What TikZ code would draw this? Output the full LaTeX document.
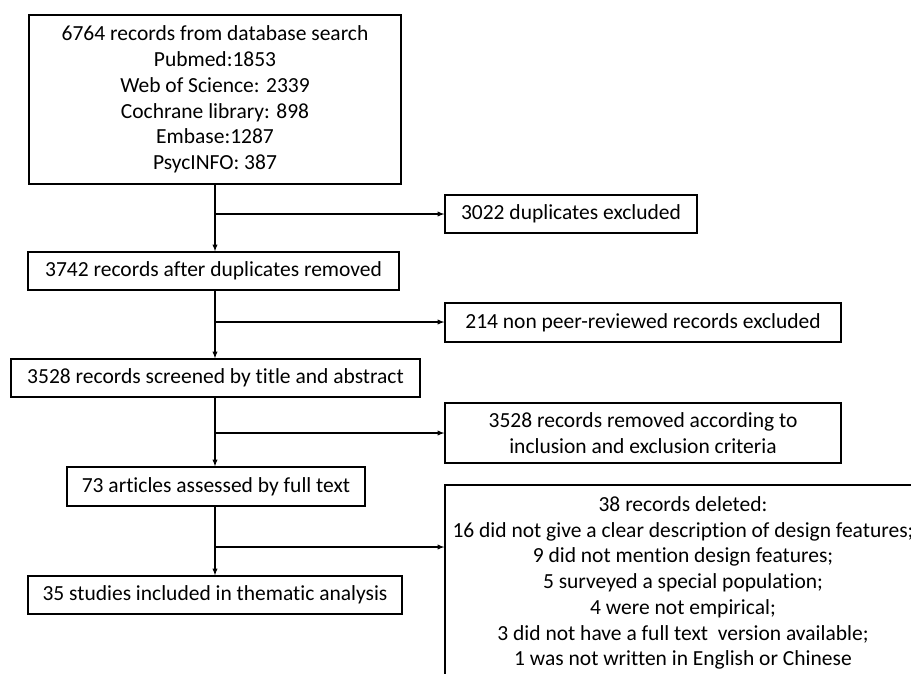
\documentclass[tikz,border=0pt]{standalone}
\usepackage{fontspec}
\setmainfont{Carlito}[Ligatures=NoCommon]
\usetikzlibrary{arrows,positioning}
\tikzset{%
	stage/.style    = {draw, rectangle, line width=1.3pt, inner sep=0pt, align=center, font=\fontsize{21.5}{25.7}\selectfont}, % main column
	excl/.style     = {stage}, % excluded records
	waypoint/.style = {coordinate},
	arrow/.style    = {line width=1.3pt, -latex},
}

\begin{document}
\begin{tikzpicture}[x=1pt,y=-1pt]
	\clip (0,0) rectangle (911,673);
	\fill[white] (0,0) rectangle (911,673);

	\node [stage, minimum width=372pt, minimum height=169pt] (search) at (215,99.5) {6764 records from database search\\Pubmed:1853\\Web of Science: 2339\\Cochrane library: 898\\Embase:1287\\PsycINFO: 387};
	\node [stage, minimum width=371pt, minimum height=38pt] (dedup) at (213.5,271) {3742 records after duplicates removed};
	\node [stage, minimum width=409pt, minimum height=38pt] (screen) at (215.5,378) {3528 records screened by title and abstract};
	\node [stage, minimum width=298pt, minimum height=39pt] (full) at (216,486.5) {73 articles assessed by full text};
	\node [stage, minimum width=374pt, minimum height=38pt] (incl) at (215,595) {35 studies included in thematic analysis};

	\node [excl, minimum width=252pt, minimum height=38pt] (dup) at (571,214) {3022 duplicates excluded};
	\node [excl, minimum width=396pt, minimum height=39pt] (peer) at (643,322.5) {214 non peer-reviewed records excluded};
	\node [excl, minimum width=396pt, minimum height=60pt] (crit) at (643,433) {3528 records removed according to\\inclusion and exclusion criteria};
	\node [excl, minimum width=476pt, minimum height=196pt] (del) at (683,583) {38 records deleted:\\16 did not give a clear description of design features;\\9 did not mention design features;\\5 surveyed a special population;\\4 were not empirical;\\3 did not have a full text\ \ version available;\\1 was not written in English or Chinese};

	\node [waypoint] (wp1) at (215,214) {};
	\node [waypoint] (wp2) at (215,322) {};
	\node [waypoint] (wp3) at (215,433) {};
	\node [waypoint] (wp4) at (215,547) {};

	\draw[arrow] (search.south -| wp1) -- (dedup.north -| wp1);
	\draw[arrow] (wp1) -- (dup.west |- wp1);
	\draw[arrow] (dedup.south -| wp2) -- (screen.north -| wp2);
	\draw[arrow] (wp2) -- (peer.west |- wp2);
	\draw[arrow] (screen.south -| wp3) -- (full.north -| wp3);
	\draw[arrow] (wp3) -- (crit.west |- wp3);
	\draw[arrow] (full.south -| wp4) -- (incl.north -| wp4);
	\draw[arrow] (wp4) -- (del.west |- wp4);
\end{tikzpicture}
\end{document}
